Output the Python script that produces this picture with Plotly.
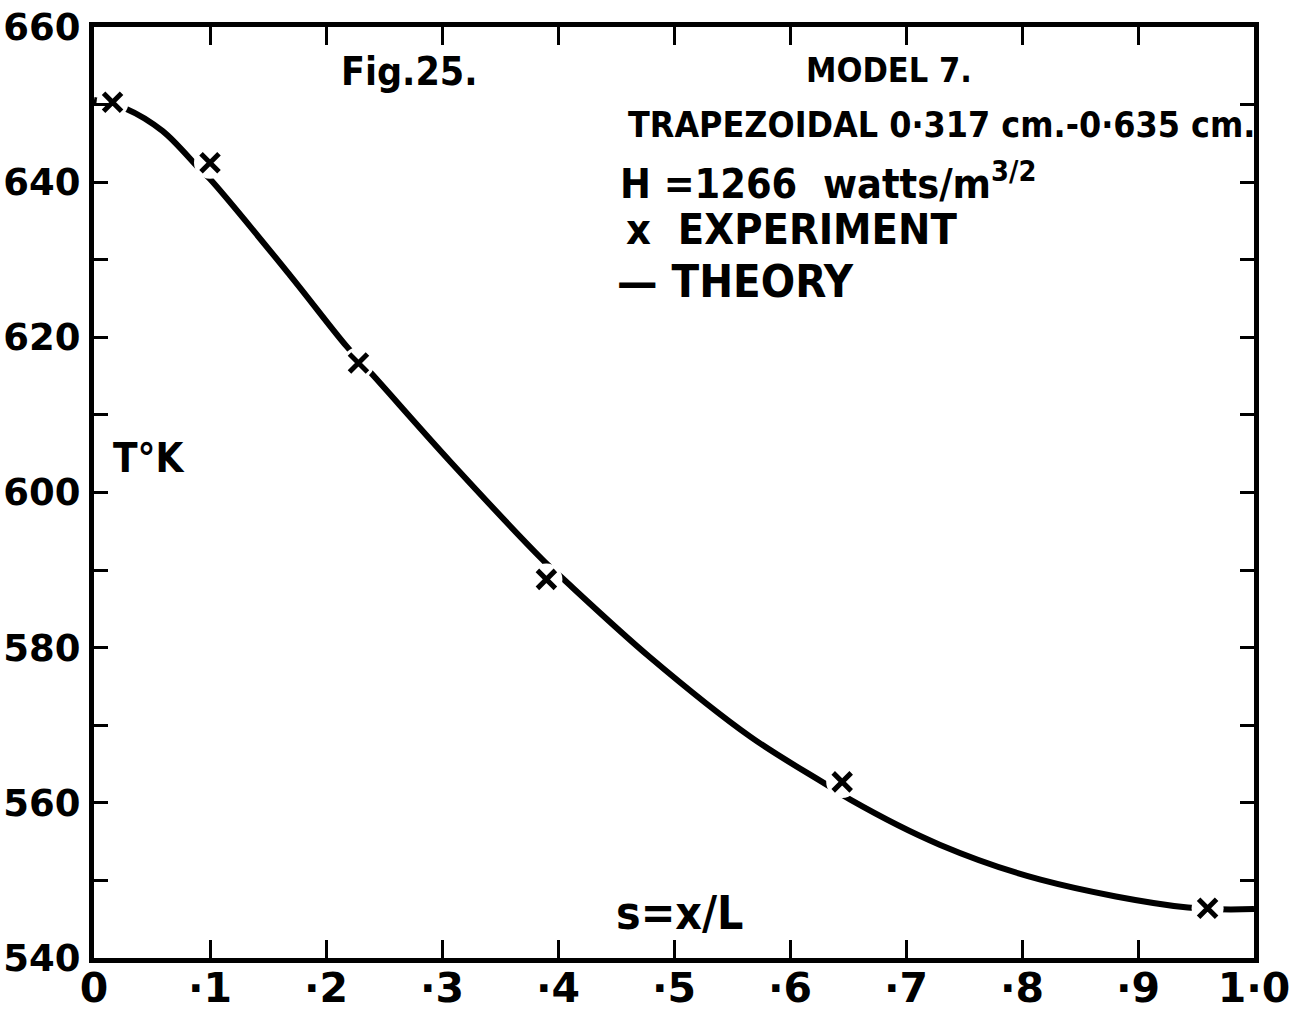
import plotly.graph_objects as go

# Experiment points (s = x/L, T in K)
exp_s = [0.016, 0.100, 0.228, 0.390, 0.645, 0.960]
exp_T = [650.3, 642.5, 616.7, 588.8, 562.7, 546.4]

# Theory curve
theory_s = [0.0, 0.027, 0.059, 0.091, 0.100, 0.169, 0.218, 0.240, 0.307, 0.389, 0.402,
            0.479, 0.566, 0.633, 0.652, 0.729, 0.816, 0.943, 1.0]
theory_T = [650.6, 649.5, 646.6, 641.7, 640.4, 628.0, 618.8, 615.2, 604.0, 591.0, 589.2,
            578.8, 568.5, 562.2, 560.4, 554.6, 550.1, 546.5, 546.3]

x_ticks = [0, 0.1, 0.2, 0.3, 0.4, 0.5, 0.6, 0.7, 0.8, 0.9, 1.0]
x_ticktext = ["0", "·1", "·2", "·3", "·4", "·5", "·6", "·7", "·8", "·9", "1·0"]
y_ticks = [540, 560, 580, 600, 620, 640, 660]

FONT = "DejaVu Sans Condensed, Liberation Sans Narrow, DejaVu Sans, sans-serif"

fig = go.Figure()
fig.add_trace(go.Scatter(x=theory_s, y=theory_T, mode="lines",
                         line=dict(color="black", width=6, shape="spline", smoothing=1.0),
                         hoverinfo="skip", showlegend=False))
# white halo to break the line around each experimental point
fig.add_trace(go.Scatter(x=exp_s, y=exp_T, mode="markers",
                         marker=dict(symbol="circle", size=32, color="white", line=dict(width=0)),
                         hoverinfo="skip", showlegend=False))
fig.add_trace(go.Scatter(x=exp_s, y=exp_T, mode="markers",
                         marker=dict(symbol="x-thin", size=18, line=dict(color="black", width=5)),
                         showlegend=False))

tfont = dict(family=FONT, size=40, color="black", weight="bold")

def ann(x, y, text, xanchor="center", size=40):
    f = dict(tfont)
    f["size"] = size
    fig.add_annotation(x=x, y=y, xref="x", yref="y", text=text, showarrow=False,
                       xanchor=xanchor, yanchor="middle", font=f)

ann(0.272, 654.3, "Fig.25.", size=39)
ann(0.685, 654.4, "MODEL 7.", size=34)
ann(0.459, 647.4, "TRAPEZOIDAL 0·317 cm.-0·635 cm.", xanchor="left", size=35.5)
ann(0.452, 640.1, "H =1266  watts/m<sup>3/2</sup>", xanchor="left", size=41)
ann(0.457, 634.0, "x  EXPERIMENT", xanchor="left", size=43)
ann(0.449, 627.2, "— THEORY", xanchor="left", size=45)
ann(0.047, 604.4, "T°K", size=40)
ann(0.505, 545.8, "s=x/L", size=46)

fig.update_xaxes(range=[0, 1.0], tickvals=x_ticks, ticktext=x_ticktext,
                 ticks="inside", ticklen=18, tickwidth=3, tickcolor="black",
                 showline=True, linewidth=5, linecolor="black", mirror="ticks",
                 showgrid=False, zeroline=False, automargin=False,
                 tickfont=dict(family="DejaVu Sans, sans-serif", size=41, color="black", weight="bold"),
                 ticklabelstandoff=-10)
fig.update_yaxes(range=[540, 660], tickvals=y_ticks,
                 ticks="inside", ticklen=14, tickwidth=3, tickcolor="black",
                 minor=dict(dtick=10, ticks="inside", ticklen=14, tickwidth=3, tickcolor="black", showgrid=False),
                 showline=True, linewidth=5, linecolor="black", mirror="ticks",
                 showgrid=False, zeroline=False, automargin=False,
                 tickfont=dict(family="DejaVu Sans, sans-serif", size=37, color="black", weight="bold"),
                 ticklabelstandoff=1)

fig.update_layout(width=1295, height=1016,
                  margin=dict(l=94, r=41, t=27, b=58),
                  paper_bgcolor="white", plot_bgcolor="white",
                  showlegend=False)

# remove the browser's default body margin so the figure fills the window exactly
fig.write_html("out.html", config={"displayModeBar": False},
               post_script="document.body.style.margin='0px';")
